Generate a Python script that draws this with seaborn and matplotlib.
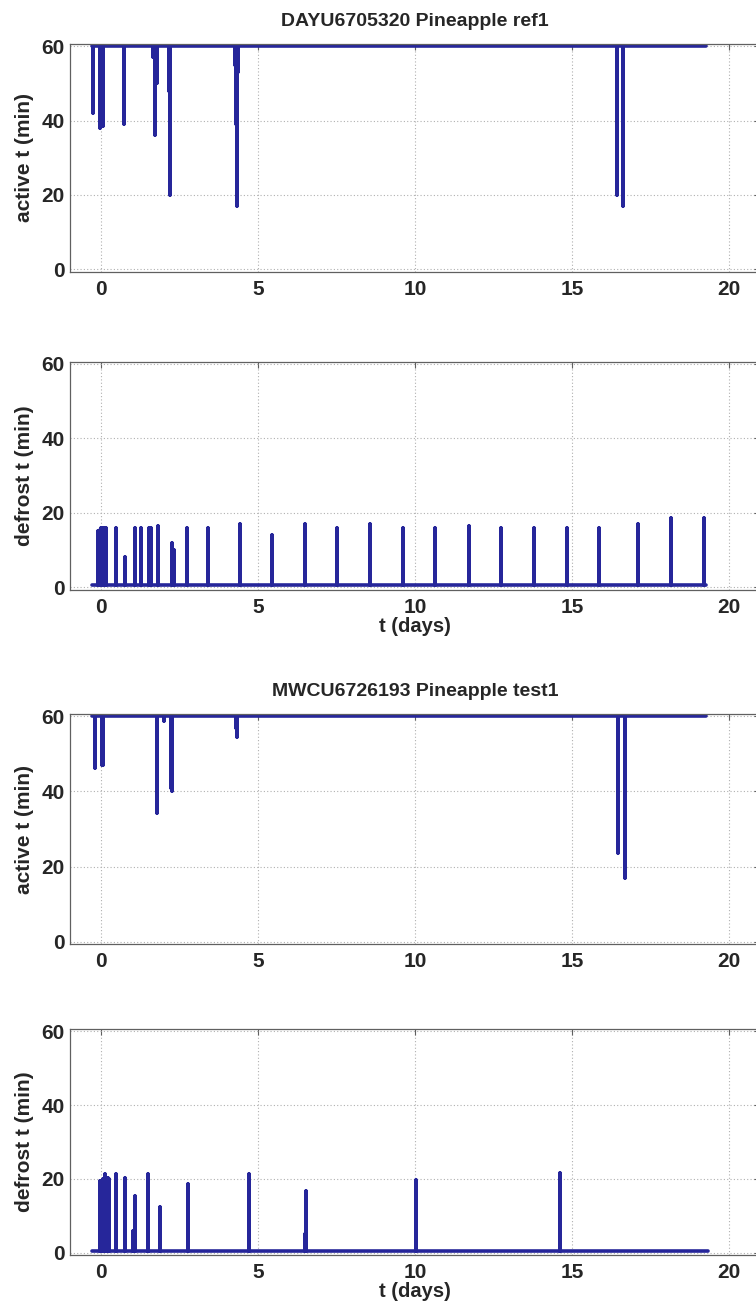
import matplotlib
matplotlib.use("Agg")
import matplotlib.pyplot as plt
import seaborn as sns
import pandas as pd

# ---------------- data ----------------
titles = ["DAYU6705320 Pineapple ref1", "MWCU6726193 Pineapple test1"]
ylabels = ["active t (min)", "defrost t (min)"]
xlabel = "t (days)"
xticks = [0, 5, 10, 15, 20]
yticks = [0, 20, 40, 60]

active_level = 60
defrost_level = 0.5

# ref1 active: dip times (days) and minimum values (min)
ref_active_t = [-0.27, -0.04, 0.0, 0.04, 0.72, 1.66, 1.72, 1.76, 2.17, 2.2,
                4.26, 4.28, 4.31, 4.34, 16.43, 16.63]
ref_active_v = [42, 38, 40, 38.5, 39, 57, 36, 50, 48, 20,
                55, 39, 17, 53, 20, 17]
ref_active_span = [-0.3, 19.27]

# ref1 defrost: spike times and peak values
ref_defrost_t = [-0.1, -0.05, 0.0, 0.05, 0.1, 0.15, 0.45, 0.74, 1.06, 1.27,
                 1.53, 1.58, 1.8, 2.26, 2.3, 2.73, 3.4, 4.43, 5.43, 6.48,
                 7.5, 8.55, 9.6, 10.64, 11.7, 12.74, 13.77, 14.83, 15.87,
                 17.1, 18.15, 19.19]
ref_defrost_v = [15, 15.5, 16, 16, 16, 16, 16, 8, 16, 16,
                 16, 16, 16.5, 12, 10, 16, 16, 17, 14, 17,
                 16, 17, 16, 16, 16.5, 16, 16, 16, 16,
                 17, 18.5, 18.5]
ref_defrost_span = [-0.3, 19.27]

# test1 active
test_active_t = [-0.21, 0.02, 0.06, 1.76, 1.78, 2.0, 2.23, 2.26, 4.3, 4.33,
                 16.47, 16.69]
test_active_v = [46.3, 47, 47, 55, 34.3, 58.7, 41, 40, 57, 54.6,
                 23.6, 17]
test_active_span = [-0.3, 19.27]

# test1 defrost
test_defrost_t = [-0.05, 0.0, 0.05, 0.1, 0.15, 0.2, 0.25, 0.45, 0.74, 1.0,
                  1.06, 1.47, 1.5, 1.86, 2.76, 4.69, 6.48, 6.53, 10.03, 14.6]
test_defrost_v = [19.4, 19, 20, 21.2, 20.3, 20.3, 20, 21.2, 20.3, 6,
                  15.5, 21.2, 21, 12.5, 18.5, 21.2, 5, 16.7, 19.7, 21.7]
test_defrost_span = [-0.3, 19.32]


def build_series(times, values, base, span):
    xs, ys = [span[0]], [base]
    for t, v in zip(times, values):
        xs += [t, t, t]
        ys += [base, v, base]
    xs.append(span[1])
    ys.append(base)
    return pd.DataFrame({"t": xs, "v": ys})


panels = [
    (build_series(ref_active_t, ref_active_v, active_level, ref_active_span), titles[0], ylabels[0], False),
    (build_series(ref_defrost_t, ref_defrost_v, defrost_level, ref_defrost_span), None, ylabels[1], True),
    (build_series(test_active_t, test_active_v, active_level, test_active_span), titles[1], ylabels[0], False),
    (build_series(test_defrost_t, test_defrost_v, defrost_level, test_defrost_span), None, ylabels[1], True),
]

# ---------------- style ----------------
sns.set_style("white")
plt.rcParams["font.family"] = ["Liberation Sans", "DejaVu Sans"]
plt.rcParams["font.weight"] = "bold"

W, H = 756, 1309
fig = plt.figure(figsize=(W / 100, H / 100), dpi=100)

# axes pixel boxes: (top, bottom)
boxes = [(44, 271.5), (361.5, 589.5), (714, 944), (1029, 1255)]
left_px, right_px = 70, 760.4

line_color = "#26269a"

for (df, title, ylab, show_xlabel), (top, bot) in zip(panels, boxes):
    ax = fig.add_axes([left_px / W, 1 - bot / H, (right_px - left_px) / W, (bot - top) / H])
    sns.lineplot(data=df, x="t", y="v", ax=ax, sort=False, estimator=None,
                 color=line_color, linewidth=2.6, solid_joinstyle="round",
                 solid_capstyle="round")
    ax.set_xlim(-1, 21)
    ax.set_ylim(-0.6, 60.6)
    ax.set_xticks(xticks)
    ax.set_yticks(yticks)
    ax.grid(True, linestyle=(0, (1, 2)), color="#b0b0b0", linewidth=0.8)
    ax.tick_params(direction="in", top=True, right=True, length=4, width=0.8,
                   color="#606060", labelsize=15, pad=6)
    ax.tick_params(axis="y", pad=4)
    for lbl in ax.get_xticklabels() + ax.get_yticklabels():
        lbl.set_fontweight("bold")
    for s in ax.spines.values():
        s.set_color("#606060")
        s.set_linewidth(0.9)
    ax.set_ylabel(ylab, fontsize=15, fontweight="bold", labelpad=5)
    if show_xlabel:
        ax.set_xlabel(xlabel, fontsize=14.5, fontweight="bold", labelpad=0)
    else:
        ax.set_xlabel("")
    if title:
        ax.set_title(title, fontsize=14, fontweight="bold", pad=13)

fig.savefig("out.png", dpi=100)
